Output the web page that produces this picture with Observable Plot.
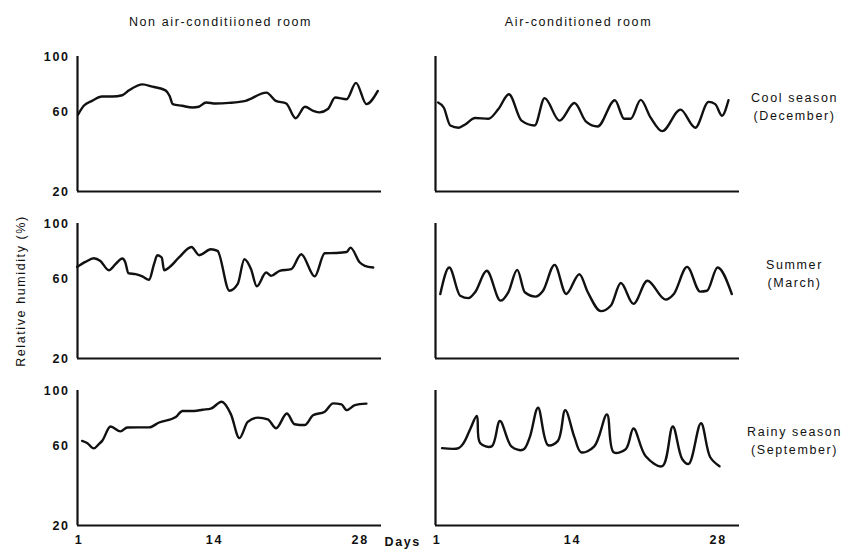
<!DOCTYPE html>
<html><head><meta charset="utf-8">
<script src="https://cdn.jsdelivr.net/npm/d3@7"></script>
<script src="https://cdn.jsdelivr.net/npm/@observablehq/plot@0.6"></script>
<style>body{margin:0;background:#fff} #chart svg{display:block}</style>
</head><body><div id="chart"></div>
<script>
const rooms = ["Non air-conditiioned room", "Air-conditioned room"];
const seasons = ["Cool season\n(December)", "Summer\n(March)", "Rainy season\n(September)"];
const yTicks = [20, 60, 100];
const xTicks = [1, 14, 28];
const xLabel = "Days";
const yLabel = "Relative humidity (%)";

// Non air-conditioned room
const nonCoolDays = [0.9, 1.45, 2.25, 3.2, 4.2, 5.15, 5.8, 7.1, 8.05, 9.3, 9.7, 10.0, 10.9, 11.9, 12.5, 13.2, 14.1, 15.4, 17.0, 19.0, 19.9, 20.9, 21.8, 22.7, 23.5, 24.1, 24.9, 25.6, 26.7, 27.6, 28.6, 29.7];
const nonCoolRH = [58.1, 63.7, 67.0, 69.9, 69.9, 70.8, 74.2, 78.5, 76.8, 74.2, 70.3, 64.8, 63.7, 62.6, 63.1, 65.9, 65.2, 65.6, 67.0, 72.6, 67.0, 65.2, 55.8, 63.1, 60.5, 59.5, 61.6, 69.2, 68.1, 79.6, 64.8, 73.8];
const nonSummerDays = [0.81, 1.61, 2.42, 3.05, 3.86, 4.5, 5.15, 5.44, 5.73, 6.43, 7.08, 7.72, 8.2, 8.52, 8.94, 9.17, 9.65, 10.6, 11.8, 12.54, 13.66, 14.3, 15.44, 16.24, 16.88, 17.52, 18.07, 18.97, 19.45, 20.26, 21.38, 22.34, 23.63, 24.6, 25.7, 26.7, 27.07, 27.97, 28.45, 29.25];
const nonSummerRH = [67.6, 71.0, 73.6, 71.7, 65.4, 69.5, 73.4, 70.8, 63.5, 62.8, 61.4, 59.2, 69.5, 75.7, 74.1, 65.4, 67.2, 74.1, 81.7, 75.7, 80.0, 78.8, 52.5, 56.6, 72.9, 66.1, 55.2, 63.9, 61.7, 65.0, 66.1, 76.4, 61.4, 77.1, 77.3, 78.0, 81.2, 70.6, 68.3, 67.2];
const nonRainyDays = [1.29, 1.77, 2.42, 2.9, 3.22, 4.02, 4.98, 5.63, 7.72, 8.69, 10.29, 10.93, 12.06, 12.86, 13.66, 14.69, 15.59, 16.4, 17.2, 18.16, 19.13, 19.93, 20.96, 21.7, 22.67, 23.47, 24.6, 25.4, 26.2, 26.7, 27.5, 28.6];
const nonRainyRH = [63.0, 61.6, 58.2, 60.9, 63.0, 72.7, 69.3, 72.0, 72.1, 75.5, 79.5, 83.9, 83.9, 84.9, 85.7, 91.0, 81.4, 64.8, 75.9, 79.0, 77.8, 71.5, 82.0, 74.3, 73.7, 80.7, 83.4, 89.7, 88.9, 84.6, 88.4, 89.5];

// Air-conditioned room
const acCoolDays = [1.1, 1.64, 2.27, 3.07, 3.7, 4.65, 5.93, 6.89, 7.9, 9.11, 10.38, 11.33, 12.76, 14.2, 15.31, 16.43, 18.08, 18.97, 19.6, 20.56, 21.5, 22.63, 24.38, 25.8, 27.08, 27.72, 28.36, 28.99];
const acCoolRH = [65.9, 62.6, 51.5, 50.2, 52.1, 56.0, 55.5, 61.6, 71.5, 54.4, 51.5, 68.8, 54.4, 65.5, 53.8, 50.9, 67.4, 55.5, 55.5, 67.6, 56.4, 48.2, 61.2, 50.2, 66.3, 64.8, 57.4, 67.4];
const acSummerDays = [1.31, 2.17, 3.22, 4.02, 4.65, 5.77, 7.1, 7.84, 8.7, 9.43, 10.45, 11.18, 12.29, 13.4, 14.67, 15.48, 16.74, 17.7, 18.65, 19.86, 21.2, 22.95, 23.74, 25.02, 26.27, 26.93, 27.94, 29.31];
const acSummerRH = [50.6, 67.2, 49.6, 48.2, 51.6, 65.0, 46.8, 51.6, 65.6, 51.6, 49.1, 52.5, 69.0, 50.6, 62.8, 51.6, 41.1, 44.1, 57.2, 45.0, 58.6, 47.4, 50.6, 67.6, 52.0, 52.5, 67.2, 50.6];
const acRainyDays = [1.48, 3.07, 3.55, 4.18, 4.82, 5.13, 6.25, 7.04, 8.16, 9.27, 9.9, 10.7, 11.66, 12.61, 13.31, 14.2, 14.84, 16.1, 17.32, 17.96, 19.13, 19.87, 21.04, 22.63, 23.64, 24.54, 25.17, 26.35, 27.24, 28.13];
const acRainyRH = [58.4, 58.4, 61.6, 70.8, 80.2, 61.6, 59.5, 76.6, 59.3, 57.4, 65.3, 86.4, 60.3, 63.0, 84.6, 65.3, 55.8, 59.5, 81.4, 55.8, 57.8, 71.3, 53.4, 47.6, 72.7, 51.8, 48.9, 75.0, 52.8, 47.6];

const series = [
  {room: rooms[0], season: seasons[0], days: nonCoolDays, rh: nonCoolRH},
  {room: rooms[0], season: seasons[1], days: nonSummerDays, rh: nonSummerRH},
  {room: rooms[0], season: seasons[2], days: nonRainyDays, rh: nonRainyRH},
  {room: rooms[1], season: seasons[0], days: acCoolDays, rh: acCoolRH},
  {room: rooms[1], season: seasons[1], days: acSummerDays, rh: acSummerRH},
  {room: rooms[1], season: seasons[2], days: acRainyDays, rh: acRainyRH}
];
const rows = series.flatMap((s, k) => s.days.map((d, i) => ({room: s.room, season: s.season, day: d, rh: s.rh[i], k})));
const smoothRows = rows.filter(r => r.k !== 5);
const sharpRows = rows.filter(r => r.k === 5);

const xDomain = [0.85, 30.05];
const ink = "#111";

const plot = Plot.plot({
  width: 842, height: 550,
  marginLeft: 76, marginRight: 102, marginTop: 55, marginBottom: 23,
  style: {fontFamily: "'Liberation Sans', Arial, sans-serif", fontSize: "12.5px", letterSpacing: "1.6px", color: ink, background: "#fff"},
  fx: {domain: rooms, padding: 0.15, axis: null},
  fy: {domain: seasons, padding: 0.19, axis: null},
  x: {domain: xDomain},
  y: {type: "sqrt", domain: [20, 100]},
  marks: [
    Plot.axisY({ticks: yTicks, tickSize: 0, tickPadding: 8, label: null, fontWeight: "bold", fontSize: 12.5}),
    Plot.axisX({ticks: xTicks, tickSize: 0, tickPadding: 10, label: null, fontWeight: "bold", fontSize: 12.5, tickFormat: d => String(d)}),
    Plot.ruleX([xDomain[0]], {stroke: ink, strokeWidth: 2.2}),
    Plot.ruleY([20], {stroke: ink, strokeWidth: 2.2}),
    Plot.line(smoothRows, {x: "day", y: "rh", z: "k", fx: "room", fy: "season", stroke: ink, strokeWidth: 2.4, curve: "monotone-x"}),
    Plot.line(sharpRows, {x: "day", y: "rh", z: "k", fx: "room", fy: "season", stroke: ink, strokeWidth: 2.4, curve: "catmull-rom"}),
    Plot.text(rooms.map(r => ({room: r, season: seasons[0]})), {fx: "room", fy: "season", text: "room", frameAnchor: "top", dy: -35, dx: -9, lineAnchor: "middle", fill: ink}),
    Plot.text(seasons.map(s => ({room: rooms[1], season: s})), {fx: "room", fy: "season", text: "season", frameAnchor: "top-right", dx: 55, dy: 49, textAnchor: "middle", lineAnchor: "middle", lineHeight: 1.44, fill: ink}),
    Plot.text([{room: rooms[0], season: seasons[2], t: xLabel}], {fx: "room", fy: "season", text: "t", frameAnchor: "bottom-right", dx: 3, dy: 16, textAnchor: "start", lineAnchor: "middle", fontWeight: "bold", fill: ink}),
    Plot.text([{room: rooms[0], season: seasons[1], t: yLabel}], {fx: "room", fy: "season", text: "t", frameAnchor: "left", dx: -57, rotate: -90, textAnchor: "middle", lineAnchor: "middle", fill: ink})
  ]
});
document.getElementById("chart").appendChild(plot);
</script>
</body></html>
